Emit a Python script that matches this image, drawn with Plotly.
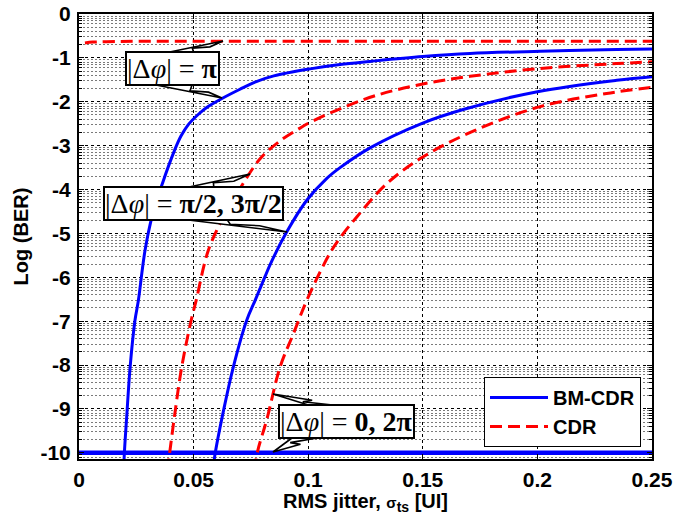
import numpy as np
import plotly.graph_objects as go

# ---------------- data ----------------
x_ticks = [0, 0.05, 0.1, 0.15, 0.2, 0.25]
x_tick_labels = ["0", "0.05", "0.1", "0.15", "0.2", "0.25"]
y_ticks = [0, -1, -2, -3, -4, -5, -6, -7, -8, -9, -10]
y_tick_labels = ["0", "-1", "-2", "-3", "-4", "-5", "-6", "-7", "-8", "-9", "-10"]

# BM-CDR, |dphi| = pi
bm_pi_x = [0.0195, 0.0198, 0.0208, 0.0223, 0.0244, 0.0259, 0.0288, 0.0320, 0.0364, 0.0419,
           0.0445, 0.0477, 0.0520, 0.0557, 0.0622, 0.0700, 0.0768, 0.0850, 0.1008, 0.1139,
           0.1270, 0.1500, 0.1706, 0.2012, 0.2346, 0.2500]
bm_pi_y = [-10.4, -10.0, -9.19, -8.05, -6.99, -6.53, -5.39, -4.59, -3.86, -3.08,
           -2.78, -2.52, -2.29, -2.13, -1.93, -1.72, -1.55, -1.41, -1.25, -1.15,
           -1.08, -0.97, -0.90, -0.85, -0.81, -0.80]
# BM-CDR, |dphi| = pi/2, 3pi/2
bm_half_x = [0.0585, 0.0593, 0.0630, 0.0673, 0.0731, 0.0768, 0.0812, 0.0833, 0.0906, 0.0993,
             0.1080, 0.1139, 0.1270, 0.1497, 0.1680, 0.2000, 0.2346, 0.2500]
bm_half_y = [-10.4, -10.05, -9.05, -8.05, -6.99, -6.53, -5.98, -5.72, -4.97, -4.25,
             -3.75, -3.50, -3.05, -2.49, -2.17, -1.77, -1.51, -1.43]
# BM-CDR, |dphi| = 0, 2pi
bm_zero_x = [0.0, 0.25]
bm_zero_y = [-10.0, -10.0]

# CDR, |dphi| = pi
cdr_pi_x = [0.0026, 0.0060, 0.0120, 0.0300, 0.0600, 0.1000, 0.1500, 0.2000, 0.2500]
cdr_pi_y = [-0.66, -0.64, -0.63, -0.62, -0.62, -0.62, -0.62, -0.62, -0.62]
# CDR, |dphi| = pi/2, 3pi/2
cdr_half_x = [0.0385, 0.0393, 0.0416, 0.0448, 0.0489, 0.0511, 0.0564, 0.0630, 0.0700, 0.0790,
              0.0880, 0.0964, 0.1008, 0.1139, 0.1300, 0.1495, 0.1706, 0.2012, 0.2346, 0.2500]
cdr_half_y = [-10.4, -10.1, -9.19, -8.05, -6.99, -6.53, -5.39, -4.63, -4.00, -3.30,
              -2.88, -2.60, -2.47, -2.16, -1.85, -1.60, -1.42, -1.24, -1.13, -1.09]
# CDR, |dphi| = 0, 2pi
cdr_zero_x = [0.0765, 0.0780, 0.0819, 0.0877, 0.0935, 0.1000, 0.1095, 0.1139, 0.1211, 0.1342,
              0.1500, 0.1720, 0.2012, 0.2302, 0.2500]
cdr_zero_y = [-10.4, -9.95, -9.25, -8.05, -7.29, -6.45, -5.45, -5.10, -4.63, -3.87,
              -3.26, -2.67, -2.11, -1.81, -1.67]

x_title = "<b>RMS jitter, <span style='font-size:15px'>σ</span><sub>ts</sub> [UI]</b>"
y_title = "<b>Log (BER)</b>"

# ---------------- layout geometry ----------------
W, H = 690, 520
L, R, T, B = 79, 652, 14, 459
X_RANGE = [0, 0.25]
Y_RANGE = [-10.14, 0]


def px2x(px):
    return X_RANGE[0] + (px - L) / (R - L) * (X_RANGE[1] - X_RANGE[0])


def px2y(py):
    return Y_RANGE[1] - (py - T) / (B - T) * (Y_RANGE[1] - Y_RANGE[0])


BLUE = "#0000ff"
RED = "#ff0000"

fig = go.Figure()

blue_sets = [(bm_pi_x, bm_pi_y, 3), (bm_half_x, bm_half_y, 3), (bm_zero_x, bm_zero_y, 4.5)]
for i, (xs, ys, w) in enumerate(blue_sets):
    fig.add_trace(go.Scatter(x=xs, y=ys, mode="lines",
                             line=dict(color=BLUE, width=w, shape="spline", smoothing=1.0),
                             name="<b>BM-CDR</b>", legendgroup="bm", showlegend=(i == 0)))
red_sets = [(cdr_pi_x, cdr_pi_y), (cdr_half_x, cdr_half_y), (cdr_zero_x, cdr_zero_y)]
for i, (xs, ys) in enumerate(red_sets):
    fig.add_trace(go.Scatter(x=xs, y=ys, mode="lines",
                             line=dict(color=RED, width=3, dash="12px,6px",
                                       shape="spline", smoothing=1.0),
                             name="<b>CDR</b>", legendgroup="cdr", showlegend=(i == 0)))

# minor (log-decade style) grid positions
minor_vals = []
for n in range(0, 11):
    for k in range(2, 10):
        v = -(n + 1) + np.log10(k)
        if Y_RANGE[0] <= v <= 0:
            minor_vals.append(float(v))


def callout(b1, b2, tip):
    b1 = np.array(b1, float); b2 = np.array(b2, float); tp = np.array(tip, float)
    k2 = b1 + 0.55 * (tp - b1) + 0.45 * (b2 - b1)
    k1 = b1 + 0.45 * (tp - b1) + 0.12 * (b2 - b1)
    pts = [b1, tp, k2, k1, b2]
    s = "M " + " L ".join(f"{px2x(p[0]):.6f},{px2y(p[1]):.6f}" for p in pts) + " Z"
    return dict(type="path", path=s, xref="x", yref="y", fillcolor="white",
                line=dict(color="black", width=1.6), layer="above")


shapes = [
    callout((160, 54), (194, 54), (223, 41)),
    callout((156, 85), (192, 85), (222, 98)),
    callout((175, 190), (214, 190), (250, 174)),
    callout((172, 218), (226, 218), (287, 232)),
    callout((318, 408), (360, 408), (273, 394)),
    callout((296, 435), (334, 435), (273, 452)),
]

SERIF = "Liberation Serif, Times New Roman, serif"
SANS = "Liberation Sans, Arial, sans-serif"
boxes = [
    (172.5, 68, "|Δ<i>φ</i>| = <b>π</b>"),
    (193.5, 203, "|Δ<i>φ</i>| = <b>π/2, 3π/2</b>"),
    (346, 421.5, "|Δ<i>φ</i>| = <b>0, 2π</b>"),
]
annotations = []
for cx, cy, txt in boxes:
    annotations.append(dict(x=px2x(cx), y=px2y(cy), xref="x", yref="y", text=txt,
                            showarrow=False, bgcolor="white", bordercolor="black",
                            borderwidth=2, borderpad=0,
                            font=dict(family=SERIF, size=28, color="black")))
annotations.append(dict(x=0.5, y=(B - 502) / (B - T), xref="paper", yref="paper",
                        text=x_title, showarrow=False, xanchor="center", yanchor="middle",
                        font=dict(family=SANS, size=20, color="black")))

fig.update_layout(
    width=W, height=H,
    margin=dict(l=L, r=W - R, t=T, b=H - B, autoexpand=False),
    paper_bgcolor="white", plot_bgcolor="white",
    font=dict(family=SANS, color="black"),
    shapes=shapes, annotations=annotations,
    legend=dict(x=(484 - L) / (R - L), y=(B - 377) / (B - T), xanchor="left", yanchor="top",
                bgcolor="white", bordercolor="black", borderwidth=1,
                font=dict(family=SANS, size=20, color="black"), itemwidth=58,
                tracegroupgap=0),
    xaxis=dict(range=X_RANGE, tickvals=x_ticks, ticktext=x_tick_labels, automargin=False,
               showgrid=True, gridcolor="black", griddash="3px,3px", gridwidth=1,
               zeroline=False, showline=True, linecolor="black", linewidth=2, mirror="ticks",
               ticks="inside", ticklen=5, tickcolor="black", ticklabelstandoff=1,
               tickfont=dict(family=SANS, size=21, color="black", weight="bold")),
    yaxis=dict(range=Y_RANGE, tickvals=y_ticks, ticktext=y_tick_labels, automargin=False,
               showgrid=True, gridcolor="black", griddash="3px,3px", gridwidth=1,
               zeroline=False, showline=True, linecolor="black", linewidth=2, mirror="ticks",
               ticks="inside", ticklen=5, tickcolor="black", ticklabelstandoff=2,
               tickfont=dict(family=SANS, size=21, color="black", weight="bold"),
               minor=dict(tickvals=minor_vals, showgrid=True, gridcolor="#7a7a7a",
                          griddash="2px,2px", gridwidth=1, ticks="inside", ticklen=3,
                          tickcolor="black"),
               title=dict(text=y_title,
                          font=dict(family=SANS, size=20, color="black"), standoff=6)),
)

fig.write_html("out.html")
